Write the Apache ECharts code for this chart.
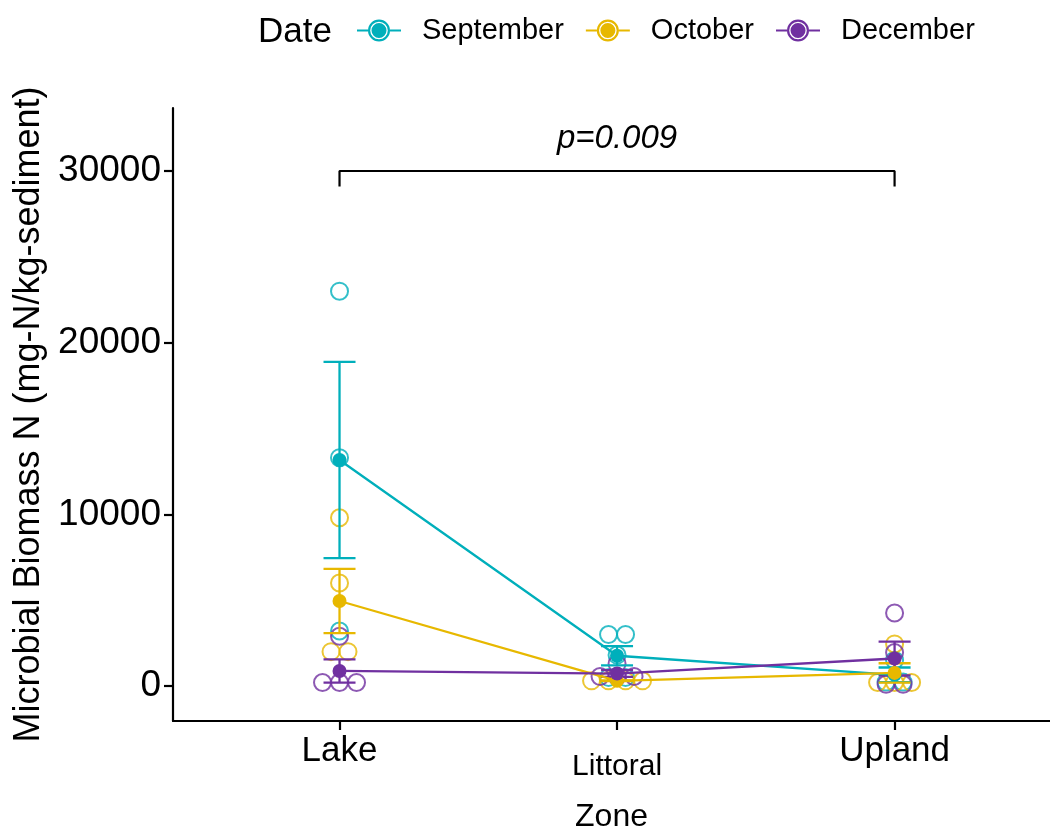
<!DOCTYPE html>
<html>
<head>
<meta charset="utf-8">
<script src="https://cdn.jsdelivr.net/npm/echarts@6/dist/echarts.min.js"></script>
<style>
  html, body { margin: 0; padding: 0; background: #ffffff; }
  #chart { width: 1050px; height: 833px; }
</style>
</head>
<body>
<div id="chart"></div>
<script>
// ---- data ----
const zones = ['Lake', 'Littoral', 'Upland'];
const months = ['September', 'October', 'December'];
const yTicks = [0, 10000, 20000, 30000];

// Microbial biomass N per sample (mg-N/kg-sediment)
const septemberLake = [23000, 13300, 3200];
const septemberLittoral = [3000, 3000, 1800, 500, 500];
const septemberUpland = [1500, 300, 150];

const octoberLake = [9800, 6000, 2000, 2000];
const octoberLittoral = [350, 300, 300, 250];
const octoberUpland = [2450, 200, 200, 200];

const decemberLake = [2900, 200, 200, 200];
const decemberLittoral = [1300, 600, 500, 500];
const decemberUpland = [4250, 1950, 100, 100];

// Lake vs Upland comparison bracket
const comparePair = ['Lake', 'Upland'];
const compareLevel = 30000;
const compareTip = 29100;
const compareLabelLevel = 31850;
const compareText = 'p=0.009';

// ---- styling / layout ----
const palette = ['#00AFBB', '#E7B800', '#7030A0'];
const FONT = "'Liberation Sans', Arial, Helvetica, sans-serif";
const GRID = { left: 173, top: 108, right: 0, bottom: 112 };
const X_MIN = 0.4, X_MAX = 3.56;
const Y_MIN = -2040, Y_MAX = 33670;
const CHART_W = 1050, CHART_H = 833;
const xPxPerUnit = (CHART_W - GRID.left - GRID.right) / (X_MAX - X_MIN);
const yPxPerUnit = (CHART_H - GRID.top - GRID.bottom) / (Y_MAX - Y_MIN);
const DOT_STEP = 17 / xPxPerUnit;   // one dot diameter along x
const BIN_WIDTH = 13 / yPxPerUnit;  // dot-density bin width along y

const observations = [
  [septemberLake, septemberLittoral, septemberUpland],
  [octoberLake, octoberLittoral, octoberUpland],
  [decemberLake, decemberLittoral, decemberUpland]
];

// centred dot-density stacking: nearby values share a bin and sit side by side
function dotStack(values, binWidth) {
  const sorted = values.slice().sort((a, b) => a - b);
  const out = [];
  let i = 0;
  while (i < sorted.length) {
    let j = i;
    while (j + 1 < sorted.length && sorted[j + 1] - sorted[i] <= binWidth) j++;
    const n = j - i + 1;
    const centre = (sorted[i] + sorted[j]) / 2;
    for (let k = 0; k < n; k++) out.push({ slot: k - (n - 1) / 2, y: centre });
    i = j + 1;
  }
  return out;
}

function meanSe(values) {
  const n = values.length;
  const mean = values.reduce((a, b) => a + b, 0) / n;
  const sd = Math.sqrt(values.reduce((a, v) => a + (v - mean) * (v - mean), 0) / (n - 1));
  return { mean, se: sd / Math.sqrt(n) };
}

// legend key: line stubs, ring and filled centre
const legendIcon = 'path://' +
  'M0 10L11 10L11 12L0 12Z' +
  'M33 10L44 10L44 12L33 12Z' +
  'M33 11A11 11 0 1 1 11 11A11 11 0 1 1 33 11Z' +
  'M30.8 11A8.8 8.8 0 1 0 13.2 11A8.8 8.8 0 1 0 30.8 11Z' +
  'M29.5 11A7.5 7.5 0 1 1 14.5 11A7.5 7.5 0 1 1 29.5 11Z';

const series = [];

months.forEach((month, mi) => {
  const color = palette[mi];
  const stats = observations[mi].map(meanSe);
  // mean line with filled mean points
  series.push({
    name: month,
    type: 'line',
    z: 6,
    data: stats.map((s, zi) => [zi + 1, s.mean]),
    symbol: 'circle',
    symbolSize: 14,
    showSymbol: true,
    lineStyle: { color, width: 2.3 },
    itemStyle: { color, borderWidth: 0 },
    emphasis: { disabled: true },
    silent: true,
    animation: false
  });
});

months.forEach((month, mi) => {
  const color = palette[mi];
  const pts = [];
  observations[mi].forEach((vals, zi) => {
    dotStack(vals, BIN_WIDTH).forEach(d => pts.push([zi + 1 + d.slot * DOT_STEP, d.y]));
  });
  // individual samples as open circles
  series.push({
    name: month,
    type: 'scatter',
    z: 2,
    data: pts,
    symbol: 'circle',
    symbolSize: 17,
    itemStyle: { color: 'rgba(0,0,0,0)', borderColor: color, borderWidth: 2 },
    emphasis: { disabled: true },
    silent: true,
    animation: false
  });
});

months.forEach((month, mi) => {
  const color = palette[mi];
  const stats = observations[mi].map(meanSe);
  // mean ± standard error
  series.push({
    name: month,
    type: 'custom',
    z: 4,
    data: stats.map((s, zi) => [zi + 1, s.mean - s.se, s.mean + s.se]),
    encode: { x: 0, y: [1, 2] },
    renderItem: (params, api) => {
      const x = api.value(0);
      const lo = api.coord([x, api.value(1)]);
      const hi = api.coord([x, api.value(2)]);
      const hw = 16;
      const style = { stroke: color, lineWidth: 2.3, fill: null };
      return {
        type: 'group',
        children: [
          { type: 'line', shape: { x1: lo[0], y1: lo[1], x2: hi[0], y2: hi[1] }, style },
          { type: 'line', shape: { x1: lo[0] - hw, y1: lo[1], x2: lo[0] + hw, y2: lo[1] }, style },
          { type: 'line', shape: { x1: hi[0] - hw, y1: hi[1], x2: hi[0] + hw, y2: hi[1] }, style }
        ]
      };
    },
    silent: true,
    animation: false
  });
});

const xa = zones.indexOf(comparePair[0]) + 1;
const xb = zones.indexOf(comparePair[1]) + 1;

// comparison bracket
series.push({
  name: 'bracket',
  type: 'line',
  z: 7,
  data: [[xa, compareTip], [xa, compareLevel], [xb, compareLevel], [xb, compareTip]],
  symbol: 'none',
  lineStyle: { color: '#000', width: 2.2 },
  silent: true,
  animation: false
});

// comparison p-value
series.push({
  name: 'pvalue',
  type: 'scatter',
  z: 7,
  data: [[(xa + xb) / 2, compareLabelLevel]],
  symbolSize: 0,
  itemStyle: { color: '#000', opacity: 1 },
  label: {
    show: true,
    position: 'inside',
    formatter: compareText,
    fontFamily: FONT,
    fontStyle: 'italic',
    fontSize: 33,
    color: '#000000',
    textBorderWidth: 0,
    opacity: 1
  },
  silent: true,
  animation: false
});

const chart = echarts.init(document.getElementById('chart'), null, { renderer: 'canvas' });

chart.setOption({
  backgroundColor: '#ffffff',
  animation: false,
  textStyle: { fontFamily: FONT },
  title: {
    text: 'Date',
    left: 258,
    top: 15,
    padding: 0,
    textStyle: { fontFamily: FONT, fontSize: 35, fontWeight: 'normal', color: '#000' }
  },
  legend: {
    left: 357,
    top: 16,
    padding: 0,
    itemWidth: 44,
    itemHeight: 22,
    itemGap: 22,
    selectedMode: false,
    data: months.map((m, i) => ({
      name: m,
      icon: legendIcon,
      itemStyle: { color: palette[i], borderWidth: 0 }
    })),
    textStyle: { fontFamily: FONT, fontSize: 29, color: '#000', padding: [0, 0, 0, 16] }
  },
  grid: {
    left: GRID.left, top: GRID.top, right: GRID.right, bottom: GRID.bottom,
    containLabel: false,
    outerBoundsMode: 'none'
  },
  xAxis: {
    type: 'value',
    min: X_MIN,
    max: X_MAX,
    name: 'Zone',
    nameLocation: 'middle',
    nameGap: 80,
    nameTextStyle: { fontFamily: FONT, fontSize: 32, color: '#000' },
    splitLine: { show: false },
    axisLine: { onZero: false, lineStyle: { color: '#000', width: 2.2 } },
    axisTick: { customValues: [1, 2, 3], length: 9, lineStyle: { color: '#000', width: 2.2 } },
    axisLabel: {
      customValues: [1, 2, 3],
      margin: 13,
      fontFamily: FONT,
      fontSize: 35,
      color: '#000',
      formatter: v => (zones[Math.round(v) - 1] === 'Littoral' ? '{s|Littoral}' : zones[Math.round(v) - 1]),
      rich: { s: { fontFamily: FONT, fontSize: 30, color: '#000', padding: [18, 0, 0, 0] } }
    }
  },
  yAxis: {
    type: 'value',
    min: Y_MIN,
    max: Y_MAX,
    name: 'Microbial Biomass N (mg-N/kg-sediment)',
    nameLocation: 'middle',
    nameGap: 110,
    nameTextStyle: { fontFamily: FONT, fontSize: 36, color: '#000' },
    splitLine: { show: false },
    axisLine: { show: true, onZero: false, lineStyle: { color: '#000', width: 2.2 } },
    axisTick: { show: true, customValues: yTicks, length: 9, lineStyle: { color: '#000', width: 2.2 } },
    axisLabel: {
      customValues: yTicks,
      margin: 12,
      fontFamily: FONT,
      fontSize: 37,
      color: '#000',
      formatter: v => String(v)
    }
  },
  series
});
</script>
</body>
</html>
